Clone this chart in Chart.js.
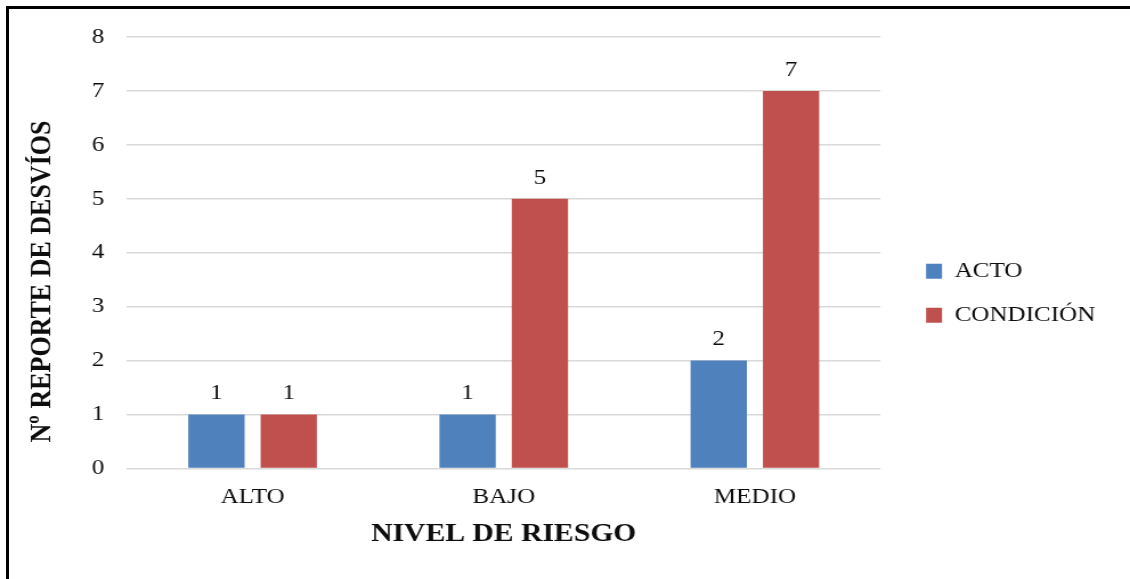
<!DOCTYPE html>
<html>
<head>
<meta charset="utf-8">
<script src="https://cdn.jsdelivr.net/npm/chart.js@4/dist/chart.umd.min.js"></script>
<style>
  html, body { margin: 0; padding: 0; background: #fff; overflow: hidden; }
  #wrap {
    position: absolute; left: 0; top: 0; width: 991px; height: 579px;
    transform: scaleX(1.14026); transform-origin: 0 0;
  }
  #frame {
    position: absolute; left: 6px; top: 6px; width: 1130px; height: 579px;
    border-top: 3px solid #000; border-left: 3px solid #000; box-sizing: border-box;
    pointer-events: none;
  }
</style>
</head>
<body>
<div id="wrap"><canvas id="c" width="991" height="579"></canvas></div>
<div id="frame"></div>
<script>
// Reportes de desvíos por nivel de riesgo
const categories = ['ALTO', 'BAJO', 'MEDIO'];
const actoValues = [1, 1, 2];
const condicionValues = [1, 5, 7];
const seriesNames = ['ACTO', 'CONDICIÓN'];
const yMin = 0;
const yMax = 8;
const yStep = 1;
const xTitle = 'NIVEL DE RIESGO';
const yTitle = 'Nº REPORTE DE DESVÍOS';

const SERIF = '"Liberation Serif", "Times New Roman", Times, serif';
const INK = '#0d0d0d';

// Value printed above each bar
const valueLabels = {
  id: 'valueLabels',
  afterDatasetsDraw(chart) {
    const ctx = chart.ctx;
    ctx.save();
    ctx.font = '22px ' + SERIF;
    ctx.fillStyle = INK;
    ctx.textAlign = 'center';
    ctx.textBaseline = 'middle';
    chart.data.datasets.forEach((ds, i) => {
      chart.getDatasetMeta(i).data.forEach((bar, j) => {
        ctx.fillText(String(ds.data[j]), bar.x, bar.y - 21);
      });
    });
    ctx.restore();
  }
};

// Rotated title of the value axis
const valueAxisTitle = {
  id: 'valueAxisTitle',
  afterDraw(chart) {
    const ctx = chart.ctx;
    ctx.save();
    ctx.translate(36.8, 281.5);
    ctx.rotate(-Math.PI / 2);
    ctx.font = 'bold 26px ' + SERIF;
    ctx.fillStyle = INK;
    ctx.textAlign = 'center';
    ctx.textBaseline = 'middle';
    ctx.fillText(yTitle, 0, 0);
    ctx.restore();
  }
};

// Extra room on the right of the legend so long labels are not cut
const legendRoom = {
  id: 'legendRoom',
  beforeInit(chart) {
    const legend = chart.legend;
    if (!legend) return;
    const fit = legend.fit;
    legend.fit = function () {
      fit.call(this);
      this.width += 24;
    };
  }
};

new Chart(document.getElementById('c'), {
  type: 'bar',
  data: {
    labels: categories,
    datasets: [
      { label: seriesNames[0], data: actoValues, backgroundColor: '#4F81BD',
        categoryPercentage: 0.576, barPercentage: 0.778 },
      { label: seriesNames[1], data: condicionValues, backgroundColor: '#C0504D',
        categoryPercentage: 0.576, barPercentage: 0.778 }
    ]
  },
  options: {
    responsive: false,
    animation: false,
    devicePixelRatio: 1,
    layout: { padding: { top: 37, right: 14, bottom: 29.6, left: 0 } },
    scales: {
      x: {
        grid: { display: false, drawTicks: false },
        border: { display: false },
        ticks: { font: { family: SERIF, size: 22 }, color: INK, padding: 16 },
        title: { display: true, text: xTitle, color: INK,
                 font: { family: SERIF, size: 26, weight: 'bold' },
                 padding: { top: 0, bottom: 0 } },
        afterFit(scale) { scale.height = 81; }
      },
      y: {
        min: yMin, max: yMax,
        ticks: { stepSize: yStep, font: { family: SERIF, size: 22 }, color: INK, padding: 20 },
        grid: { color: '#d9d9d9', lineWidth: 1.5, drawTicks: false },
        border: { display: false },
        afterFit(scale) { scale.width = 111.4; }
      },
      gap: {
        type: 'linear', position: 'right', display: true,
        grid: { display: false }, border: { display: false }, ticks: { display: false },
        afterFit(scale) { scale.width = 18; }
      }
    },
    plugins: {
      legend: {
        position: 'right',
        labels: { font: { family: SERIF, size: 22 }, color: INK,
                  boxWidth: 14, boxHeight: 15, padding: 22 }
      },
      tooltip: { enabled: false }
    }
  },
  plugins: [valueLabels, valueAxisTitle, legendRoom]
});
</script>
</body>
</html>
